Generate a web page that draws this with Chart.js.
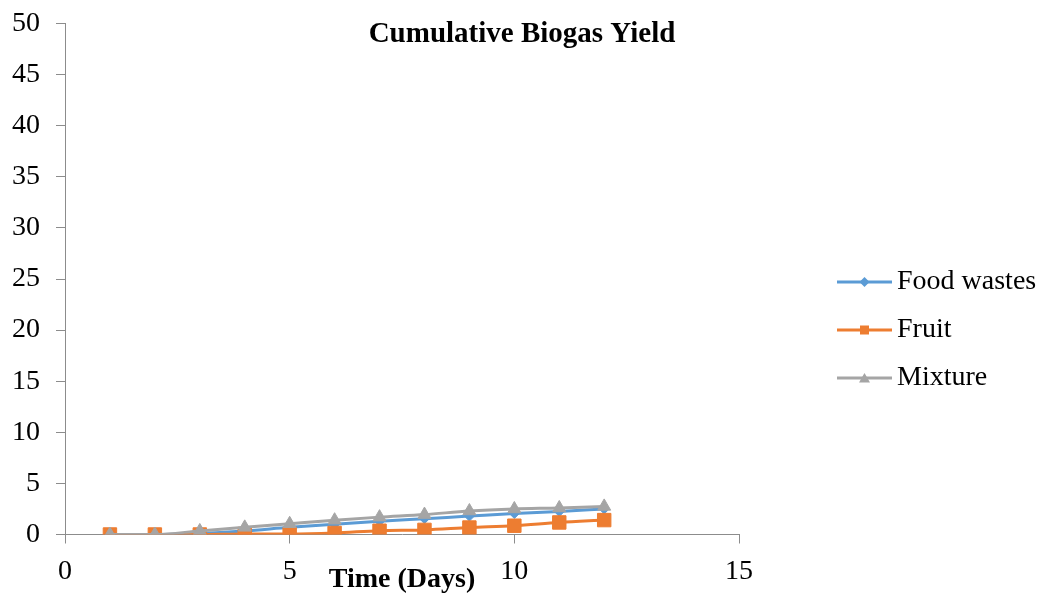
<!DOCTYPE html>
<html>
<head>
<meta charset="utf-8">
<title>Cumulative Biogas Yield</title>
<script src="https://cdn.jsdelivr.net/npm/chart.js@4/dist/chart.umd.min.js"></script>
<style>
  html, body { margin: 0; padding: 0; background: #ffffff; }
  #wrap { width: 1044px; height: 595px; }
</style>
</head>
<body>
<div id="wrap"><canvas id="chart" width="1044" height="595"></canvas></div>
<script>
// Days of digestion
const days = [1, 2, 3, 4, 5, 6, 7, 8, 9, 10, 11, 12];
// Cumulative biogas yield per substrate
const foodWastes = [0, 0, 0.1, 0.35, 0.7, 1.0, 1.3, 1.55, 1.8, 2.05, 2.25, 2.5];
const fruit = [0, 0, 0, 0.05, 0.05, 0.15, 0.37, 0.45, 0.68, 0.86, 1.18, 1.41];
const mixture = [0, 0, 0.35, 0.7, 1.05, 1.4, 1.7, 1.95, 2.3, 2.5, 2.6, 2.75];
// Axis ticks
const xTicks = [0, 5, 10, 15];
const yTicks = [0, 5, 10, 15, 20, 25, 30, 35, 40, 45, 50];

const seriesNames = ['Food wastes', 'Fruit', 'Mixture'];
const seriesColors = ['#5B9BD5', '#ED7D31', '#A5A5A5'];

const FONT = '"Liberation Serif", "Times New Roman", serif';
const FONT_SIZE = 28;
const AXIS_GREY = '#8C8C8C';

function toPoints(values) {
  return days.map((d, i) => ({ x: d, y: values[i] }));
}

// Line-with-marker swatches for the legend
function legendSwatch(color, shape) {
  const c = document.createElement('canvas');
  c.width = 63; c.height = 16;
  const g = c.getContext('2d');
  g.strokeStyle = color; g.lineWidth = 3;
  g.beginPath(); g.moveTo(8, 8); g.lineTo(63, 8); g.stroke();
  g.fillStyle = color;
  const cx = 35.5;
  g.beginPath();
  if (shape === 'diamond') {
    g.moveTo(cx, 3); g.lineTo(cx + 5, 8); g.lineTo(cx, 13); g.lineTo(cx - 5, 8);
  } else if (shape === 'square') {
    g.rect(cx - 4.5, 3.5, 9, 9);
  } else {
    g.moveTo(cx, 3); g.lineTo(cx + 5.5, 12.5); g.lineTo(cx - 5.5, 12.5);
  }
  g.closePath(); g.fill();
  return c;
}
const swatches = [
  legendSwatch(seriesColors[0], 'diamond'),
  legendSwatch(seriesColors[1], 'square'),
  legendSwatch(seriesColors[2], 'triangle')
];

const common = {
  borderWidth: 3,
  pointBorderWidth: 1,
  cubicInterpolationMode: 'monotone',
  fill: false
};

new Chart(document.getElementById('chart'), {
  type: 'line',
  data: {
    datasets: [
      Object.assign({}, common, {
        label: seriesNames[0], data: toPoints(foodWastes),
        borderColor: seriesColors[0], backgroundColor: seriesColors[0],
        pointStyle: 'rectRot', pointRadius: 5, order: 2
      }),
      Object.assign({}, common, {
        label: seriesNames[1], data: toPoints(fruit),
        borderColor: seriesColors[1], backgroundColor: seriesColors[1],
        pointStyle: 'rect', pointRadius: 9.5, order: 1
      }),
      Object.assign({}, common, {
        label: seriesNames[2], data: toPoints(mixture),
        borderColor: seriesColors[2], backgroundColor: seriesColors[2],
        pointStyle: 'triangle', pointRadius: 7.5, order: 0
      })
    ]
  },
  options: {
    responsive: false,
    animation: false,
    devicePixelRatio: 1,
    layout: { padding: 0 },
    plugins: {
      title: {
        display: true,
        text: 'Cumulative Biogas Yield',
        color: '#000000',
        font: { family: FONT, size: 29, weight: 'bold', lineHeight: 1.2 },
        padding: { top: 17.6, bottom: -28.9 }
      },
      legend: {
        position: 'right',
        fullSize: false,
        align: 'start',
        maxWidth: 226,
        title: { display: true, text: '', padding: { top: 210.1, bottom: 0 } },
        labels: {
          color: '#000000',
          font: { family: FONT, size: FONT_SIZE },
          padding: 20,
          usePointStyle: true,
          pointStyleWidth: 45,
          generateLabels(chart) {
            return chart.data.datasets.map((ds, i) => ({
              text: ds.label,
              fillStyle: ds.backgroundColor,
              strokeStyle: ds.borderColor,
              lineWidth: 0,
              pointStyle: swatches[i],
              hidden: false,
              datasetIndex: i,
              fontColor: '#000000'
            }));
          }
        }
      },
      tooltip: { enabled: false }
    },
    scales: {
      x: {
        type: 'linear',
        position: 'bottom',
        min: xTicks[0],
        max: xTicks[xTicks.length - 1],
        afterBuildTicks(scale) { scale.ticks = xTicks.map(v => ({ value: v })); },
        afterFit(scale) { scale.height = 595 - 534.5; },
        grid: { display: true, drawOnChartArea: false, drawTicks: true, tickLength: 9, color: AXIS_GREY },
        border: { display: true, color: AXIS_GREY, width: 1 },
        ticks: { color: '#000000', font: { family: FONT, size: FONT_SIZE }, padding: 11, maxRotation: 0 },
        title: {
          display: true,
          text: 'Time (Days)',
          color: '#000000',
          font: { family: FONT, size: FONT_SIZE, weight: 'bold' },
          padding: { top: 0, bottom: -2 }
        }
      },
      y: {
        type: 'linear',
        position: 'left',
        min: yTicks[0],
        max: yTicks[yTicks.length - 1],
        afterBuildTicks(scale) { scale.ticks = yTicks.map(v => ({ value: v })); },
        afterFit(scale) {
          scale.width = 65;
          // let the end labels overhang the plot instead of shrinking it
          scale.paddingTop = 0;
          scale.paddingBottom = 0;
        },
        grid: { display: true, drawOnChartArea: false, drawTicks: true, tickLength: 9, color: AXIS_GREY },
        border: { display: true, color: AXIS_GREY, width: 1 },
        ticks: { color: '#000000', font: { family: FONT, size: FONT_SIZE }, padding: 16 }
      },
      gap: {
        type: 'linear',
        position: 'right',
        display: true,
        grid: { display: false },
        border: { display: false },
        ticks: { display: false },
        afterFit(scale) { scale.width = 79; }
      }
    }
  }
});
</script>
</body>
</html>
